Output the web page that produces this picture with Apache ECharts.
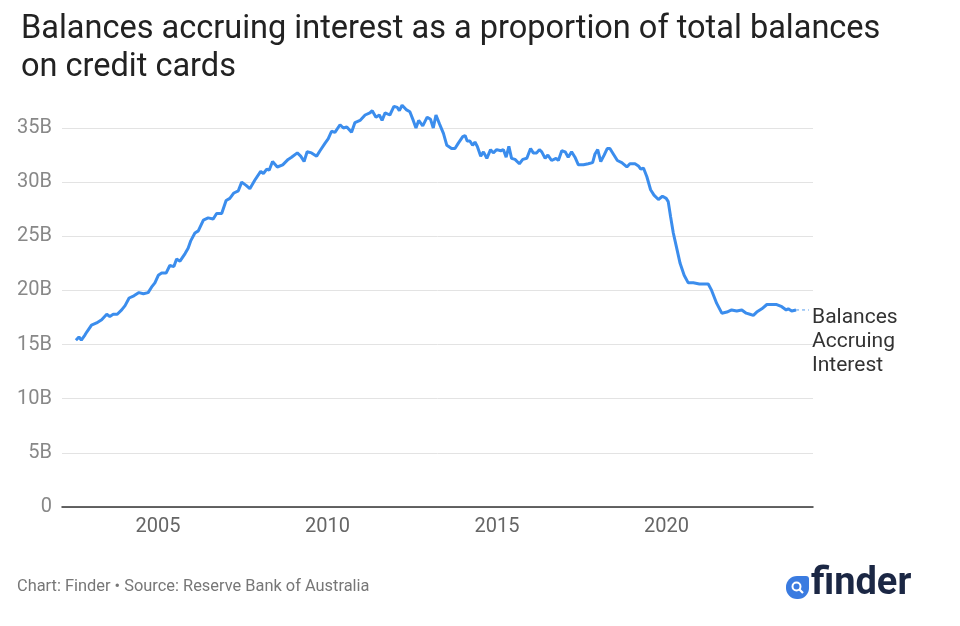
<!DOCTYPE html>
<html>
<head>
<meta charset="utf-8">
<script src="https://cdn.jsdelivr.net/npm/echarts@6/dist/echarts.min.js"></script>
<style>
html,body{margin:0;padding:0;background:#fff;}
#chart{width:960px;height:626px;}
</style>
</head>
<body>
<div id="chart"></div>
<script>
const years = [
2002.58,2002.67,2002.74,2002.85,2002.91,2003.04,2003.19,2003.34,2003.49,2003.58,2003.68,2003.80,2003.93,
2004.03,2004.15,2004.29,2004.44,2004.57,2004.71,2004.81,2004.91,2005.01,2005.11,2005.24,2005.35,2005.47,
2005.55,2005.65,2005.80,2005.89,2005.97,2006.09,2006.19,2006.24,2006.34,2006.48,2006.63,2006.73,2006.88,
2007.01,2007.12,2007.24,2007.37,2007.47,2007.60,2007.71,2007.86,2008.03,2008.11,2008.21,2008.28,2008.38,
2008.52,2008.68,2008.84,2008.94,2009.11,2009.21,2009.31,2009.40,2009.53,2009.68,2009.78,2009.93,2010.02,
2010.12,2010.22,2010.37,2010.47,2010.57,2010.71,2010.81,2010.96,2011.11,2011.25,2011.32,2011.43,2011.53,
2011.61,2011.70,2011.84,2011.96,2012.06,2012.12,2012.20,2012.32,2012.43,2012.53,2012.61,2012.69,2012.81,
2012.94,2013.04,2013.12,2013.20,2013.30,2013.42,2013.52,2013.66,2013.76,2013.86,2013.99,2014.06,2014.12,
2014.20,2014.28,2014.35,2014.42,2014.52,2014.60,2014.70,2014.81,2014.89,2014.99,2015.11,2015.19,2015.27,
2015.35,2015.43,2015.53,2015.66,2015.76,2015.88,2015.99,2016.07,2016.17,2016.25,2016.32,2016.42,2016.50,
2016.61,2016.74,2016.81,2016.91,2017.01,2017.10,2017.20,2017.30,2017.40,2017.55,2017.69,2017.82,2017.89,
2017.97,2018.06,2018.16,2018.25,2018.33,2018.43,2018.55,2018.68,2018.83,2018.92,2019.07,2019.17,2019.24,
2019.32,2019.42,2019.53,2019.63,2019.76,2019.88,2019.99,2020.05,2020.12,2020.20,2020.30,2020.40,2020.52,
2020.64,2020.79,2020.97,2021.09,2021.23,2021.33,2021.48,2021.63,2021.78,2021.92,2022.07,2022.22,2022.35,
2022.46,2022.56,2022.66,2022.81,2022.96,2023.10,2023.25,2023.40,2023.53,2023.59,2023.69,2023.82
];
// Balances accruing interest, billions of dollars
const balances = [
15.4,15.7,15.4,15.9,16.2,16.8,17.0,17.3,17.8,17.6,17.8,17.8,18.2,
18.6,19.3,19.5,19.8,19.7,19.8,20.3,20.7,21.4,21.6,21.6,22.3,22.2,
22.9,22.7,23.4,23.9,24.6,25.3,25.5,25.6,26.5,26.7,26.6,27.1,27.1,
28.3,28.5,29.0,29.2,30.0,29.7,29.4,30.2,31.0,30.8,31.2,31.1,31.9,
31.4,31.6,32.1,32.3,32.7,32.4,31.9,32.8,32.7,32.4,32.9,33.6,34.0,
34.7,34.6,35.3,35.0,35.1,34.6,35.5,35.7,36.2,36.4,36.6,36.0,36.2,
35.7,36.4,36.2,37.0,36.9,36.6,37.1,36.7,36.5,35.7,35.0,35.7,35.2,
36.0,35.8,35.0,36.2,35.4,34.5,33.4,33.1,33.1,33.6,34.2,34.3,33.8,
33.8,33.4,33.7,33.3,32.4,32.8,32.2,33.0,32.7,33.0,32.9,33.0,32.3,
33.3,32.2,32.1,31.7,32.1,32.2,33.1,32.7,32.7,33.0,32.8,32.2,32.5,
32.0,32.2,32.0,32.9,32.8,32.3,32.8,32.3,31.6,31.6,31.7,31.8,32.6,
33.0,31.9,32.5,33.1,33.1,32.6,32.0,31.8,31.4,31.7,31.7,31.5,31.2,
31.3,30.5,29.3,28.8,28.4,28.7,28.5,28.2,26.8,25.3,23.9,22.5,21.4,
20.7,20.7,20.6,20.6,20.6,20.0,18.8,17.9,18.0,18.2,18.1,18.2,17.9,
17.8,17.7,18.0,18.3,18.7,18.7,18.7,18.5,18.2,18.3,18.1,18.2
];
const xTickYears = [2005, 2010, 2015, 2020];
const yTicks = [0, 5, 10, 15, 20, 25, 30, 35];
const seriesName = 'Balances\nAccruing\nInterest';
const titleText = 'Balances accruing interest as a proportion of total balances\non credit cards';
const sourceText = 'Chart: Finder \u2022 Source: Reserve Bank of Australia';

const lineData = years.map((y, i) => [y, balances[i]]);
const lastX = years[years.length - 1];
const lastY = balances[balances.length - 1];
const xMin = 2002.17, xMax = 2024.32;

const chart = echarts.init(document.getElementById('chart'), null, {renderer: 'canvas'});
chart.setOption({
  backgroundColor: '#ffffff',
  animation: false,
  textStyle: {fontFamily: 'Roboto'},
  title: {
    text: titleText,
    left: 16, top: 6,
    textStyle: {fontFamily: 'Roboto', fontSize: 32.5, fontWeight: 'normal', color: '#222222', lineHeight: 38}
  },
  grid: {left: 62, right: 147, top: 128, bottom: 119, containLabel: false},
  xAxis: {
    type: 'value', min: xMin, max: xMax,
    axisLine: {show: true, lineStyle: {color: '#333333', width: 1.5}},
    axisTick: {show: false},
    splitLine: {show: false},
    axisLabel: {
      customValues: xTickYears,
      formatter: v => String(Math.round(v)),
      color: '#666666', fontSize: 20, margin: 10, fontFamily: 'Roboto'
    }
  },
  yAxis: {
    type: 'value', min: 0, max: 35, interval: 5,
    axisLine: {show: false}, axisTick: {show: false},
    splitLine: {show: true, lineStyle: {color: '#e3e3e3', width: 1}},
    axisLabel: {
      formatter: v => v === 0 ? '0' : v + 'B',
      color: '#888888', fontSize: 20, margin: 10, fontFamily: 'Roboto'
    }
  },
  series: [
    {
      type: 'line', name: seriesName, data: lineData,
      clip: false, showSymbol: false, symbol: 'none',
      lineStyle: {color: '#3b8ded', width: 3},
      endLabel: {
        show: true, formatter: seriesName, distance: 16,
        color: '#333333', fontSize: 21, lineHeight: 24,
        verticalAlign: 'top', offset: [0, -4], fontFamily: 'Roboto'
      },
      z: 3
    },
    {
      type: 'line', data: [[lastX, lastY], [lastX + 0.38, lastY]],
      showSymbol: false, symbol: 'none', clip: false, silent: true,
      lineStyle: {color: '#8cbcf3', width: 1.5, type: [3, 3]},
      z: 2
    }
  ],
  graphic: [
    {
      type: 'text', left: 17, top: 579,
      style: {text: sourceText, fill: '#777777', font: '16.4px Roboto'}
    },
    {
      type: 'group', left: 786, top: 565,
      children: [
        {type: 'rect', shape: {x: 0, y: 11, width: 23, height: 23, r: [11, 3, 11, 11]}, style: {fill: '#3a7be0'}},
        {type: 'circle', shape: {cx: 10.5, cy: 21.5, r: 4}, style: {fill: 'none', stroke: '#ffffff', lineWidth: 2}},
        {type: 'line', shape: {x1: 13.5, y1: 24.5, x2: 17, y2: 28}, style: {stroke: '#ffffff', lineWidth: 2.2}},
        {type: 'text', x: 25, y: 0, style: {text: 'finder', fill: '#1b2744', font: 'bold 38px Roboto'}}
      ]
    }
  ]
});
</script>
</body>
</html>
